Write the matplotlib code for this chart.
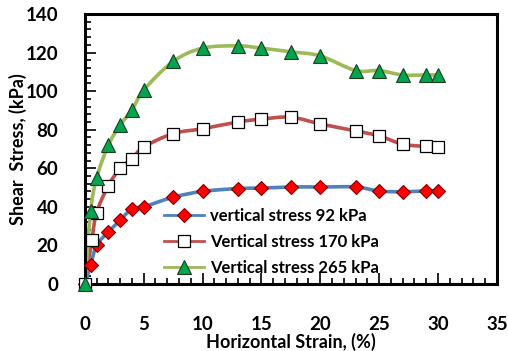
import numpy as np
from matplotlib import pyplot as plt
from matplotlib.path import Path
from matplotlib.patches import PathPatch
from matplotlib.lines import Line2D
from matplotlib.ticker import MultipleLocator

plt.rcParams['font.family'] = ['Lato', 'DejaVu Sans']

# strain (%) and shear stress (kPa)
strain_92 = [0, 0.5, 1, 2, 3, 4, 5, 7.5, 10, 13, 15, 17.5, 20, 23, 25, 27, 29, 30]
stress_92 = [0, 10, 20, 27, 33, 39, 40, 45, 48, 49.5, 49.7, 50.3, 50.3, 50.3, 48.2, 47.8, 48.3, 48.3]

strain_170 = [0, 0.6, 1, 2, 3, 4, 5, 7.5, 10, 13, 15, 17.5, 20, 23, 25, 27, 29, 30]
stress_170 = [0, 23, 37, 51, 60, 65, 71, 78, 80.5, 84, 85.5, 86.5, 83, 79.4, 76.8, 72.5, 71.3, 70.8]

strain_265 = [0, 0.5, 1, 2, 3, 4, 5, 7.5, 10, 13, 15, 17.5, 20, 23, 25, 27, 29, 30]
stress_265 = [0, 38, 55, 72, 82.4, 90.2, 100.5, 115.4, 122.3, 123.5, 122.3, 120.4, 118.3, 110.7, 110.7, 108.4, 108.4, 108.4]

labels = ['vertical stress 92 kPa', 'Vertical stress 170 kPa', 'Vertical stress 265 kPa']


def smooth_path(x, y):
    # Catmull-Rom style curve through the points, drawn as cubic Bezier segments
    x = np.asarray(x, float)
    y = np.asarray(y, float)
    verts = [(x[0], y[0])]
    codes = [Path.MOVETO]
    n = len(x)
    t = 1.0 / 6
    for i in range(n - 1):
        x0, y0 = (x[i - 1], y[i - 1]) if i > 0 else (x[i], y[i])
        x3, y3 = (x[i + 2], y[i + 2]) if i + 2 < n else (x[i + 1], y[i + 1])
        c1 = (x[i] + (x[i + 1] - x0) * t, y[i] + (y[i + 1] - y0) * t)
        c2 = (x[i + 1] - (x3 - x[i]) * t, y[i + 1] - (y3 - y[i]) * t)
        verts += [c1, c2, (x[i + 1], y[i + 1])]
        codes += [Path.CURVE4] * 3
    return Path(verts, codes)


fig = plt.figure(figsize=(5.08, 3.51), dpi=100)
ax = fig.add_axes([0.167, 0.191, 0.811, 0.769])

series = [
    (strain_92, stress_92, '#4F81BD', dict(marker='D', ms=7, mfc='#FF0000', mec='#7F0000', mew=0.8)),
    (strain_170, stress_170, '#C0504D', dict(marker='s', ms=9, mfc='white', mec='black', mew=0.9)),
    (strain_265, stress_265, '#9BBB59', dict(marker='^', ms=9.5, mfc='#00A550', mec='#1E3D1E', mew=0.8)),
]

handles = []
for x, y, col, mk in series:
    ax.add_patch(PathPatch(smooth_path(x, y), fill=False, ec=col, lw=2.6, zorder=2))
    ax.plot(x, y, ls='none', zorder=3, clip_on=False, **mk)
    handles.append(Line2D([], [], color=col, lw=2.0, **mk))

ax.set_xlim(0, 35)
ax.set_ylim(0, 140)
ax.xaxis.set_major_locator(MultipleLocator(5))
ax.xaxis.set_minor_locator(MultipleLocator(1))
ax.yaxis.set_major_locator(MultipleLocator(20))
ax.yaxis.set_minor_locator(MultipleLocator(4))
ax.tick_params(which='both', direction='in', top=False, right=False, width=1.2)
ax.tick_params(which='major', length=8, labelsize=13.5)
ax.tick_params(which='minor', length=4)
ax.tick_params(axis='x', which='major', pad=23)
ax.tick_params(axis='y', which='major', pad=19)
for lab in ax.get_xticklabels() + ax.get_yticklabels():
    lab.set_fontweight('bold')
for s in ax.spines.values():
    s.set_linewidth(2.2)

ax.set_xlabel('Horizontal Strain, (%)', fontsize=13, fontweight='bold', labelpad=0)
ax.set_ylabel('Shear  Stress, (kPa)', fontsize=13, fontweight='bold')
ax.yaxis.set_label_coords(-0.14, 0.5)

leg = ax.legend(handles, labels, loc='lower left', bbox_to_anchor=(0.155, -0.025),
                frameon=False, fontsize=12, handlelength=2.4, labelspacing=0.6,
                handletextpad=0.4)
for t in leg.get_texts():
    t.set_fontweight('bold')

fig.savefig('out.png', dpi=100)
